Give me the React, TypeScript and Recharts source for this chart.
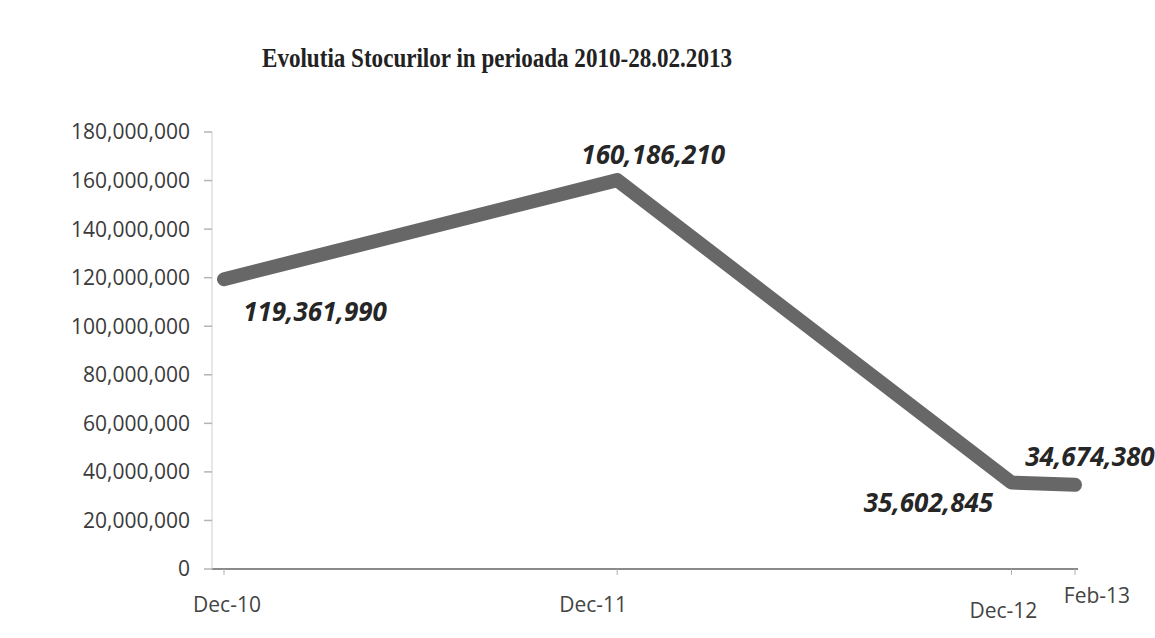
import { LineChart, Line, XAxis, YAxis, LabelList } from 'recharts'

// stock levels at the end of each reporting period
const periods = ['Dec-10', 'Dec-11', 'Dec-12', 'Feb-13']
const periodDates = [
  Date.UTC(2010, 11, 31),
  Date.UTC(2011, 11, 31),
  Date.UTC(2012, 11, 31),
  Date.UTC(2013, 1, 28),
]
const stocks = [119361990, 160186210, 35602845, 34674380]
const yTicks = [0, 20000000, 40000000, 60000000, 80000000, 100000000, 120000000, 140000000, 160000000, 180000000]

const DAY = 86400000
const data = periods.map((label, i) => ({
  label,
  day: (periodDates[i] - periodDates[0]) / DAY,
  value: stocks[i],
}))

const fmt = (v: number) => v.toLocaleString('en-US')

// label nudges so they sit beside the line like in the workbook
const labelShift = [
  { dx: 91, dy: 32 },
  { dx: 36, dy: -26 },
  { dx: -83, dy: 19 },
  { dx: 15, dy: -29 },
]
const tickShift = [
  { dx: 3, dy: 0 },
  { dx: -24, dy: 0 },
  { dx: -8, dy: 6 },
  { dx: 22, dy: -9 },
]

const ValueLabel = ({ x, y, value, index }: any) => {
  const s = labelShift[index] || { dx: 0, dy: -20 }
  return (
    <text
      x={x + s.dx} y={y + s.dy} textAnchor="middle" dominantBaseline="central"
      fontFamily="'Open Sans', sans-serif" fontWeight={700} fontStyle="italic"
      fontSize={26} fill="#262626"
    >
      {fmt(value)}
    </text>
  )
}

const PeriodTick = ({ x, y, payload, index }: any) => {
  const s = tickShift[index] || { dx: 0, dy: 0 }
  const d = data.find(p => p.day === payload.value)
  return (
    <text
      x={x + s.dx} y={y + s.dy} dy="0.71em" textAnchor="middle"
      fontFamily="'Open Sans', sans-serif" fontSize={21} fill="#444"
    >
      {d ? d.label : ''}
    </text>
  )
}

export default function App() {
  return (
    <div style={{ position: 'absolute', left: 0, top: 0, width: 1155, height: 638, background: '#fff' }}>
      <svg width={1155} height={90} style={{ position: 'absolute', left: 0, top: 0 }}>
        <text
          x={497} y={67} textAnchor="middle" textLength={470} lengthAdjust="spacingAndGlyphs"
          fontFamily="'Liberation Serif', serif" fontWeight={700} fontSize={27} fill="#222"
        >
          Evolutia Stocurilor in perioada 2010-28.02.2013
        </text>
      </svg>
      <LineChart
        width={1155} height={638} data={data}
        margin={{ top: 132, right: 77, bottom: 19, left: 0 }}
        style={{ position: 'absolute', left: 0, top: 0 }}
      >
        <XAxis
          type="number" dataKey="day" domain={[0, 790]} ticks={data.map(d => d.day)}
          padding={{ left: 12, right: 3 }} height={50}
          stroke="#8a8a8a" strokeWidth={2} tickSize={6} tickMargin={22}
          tickLine={{ stroke: '#b0b0b0', strokeWidth: 1 }}
          tick={<PeriodTick />}
        />
        <YAxis
          type="number" domain={[0, 180000000]} ticks={yTicks} width={212}
          interval={0} tickFormatter={fmt} tickSize={8} tickMargin={14}
          axisLine={{ stroke: '#cfcfcf', strokeWidth: 1 }}
          tickLine={{ stroke: '#b5b5b5', strokeWidth: 1.5 }}
          tick={{ fill: '#3a3a3a', fontSize: 21, fontFamily: "'Open Sans', sans-serif" }}
        />
        <Line
          type="linear" dataKey="value" stroke="#676767" strokeWidth={14}
          strokeLinecap="round" strokeLinejoin="round" dot={false} activeDot={false}
          isAnimationActive={false}
        >
          <LabelList dataKey="value" content={<ValueLabel />} />
        </Line>
      </LineChart>
    </div>
  )
}
